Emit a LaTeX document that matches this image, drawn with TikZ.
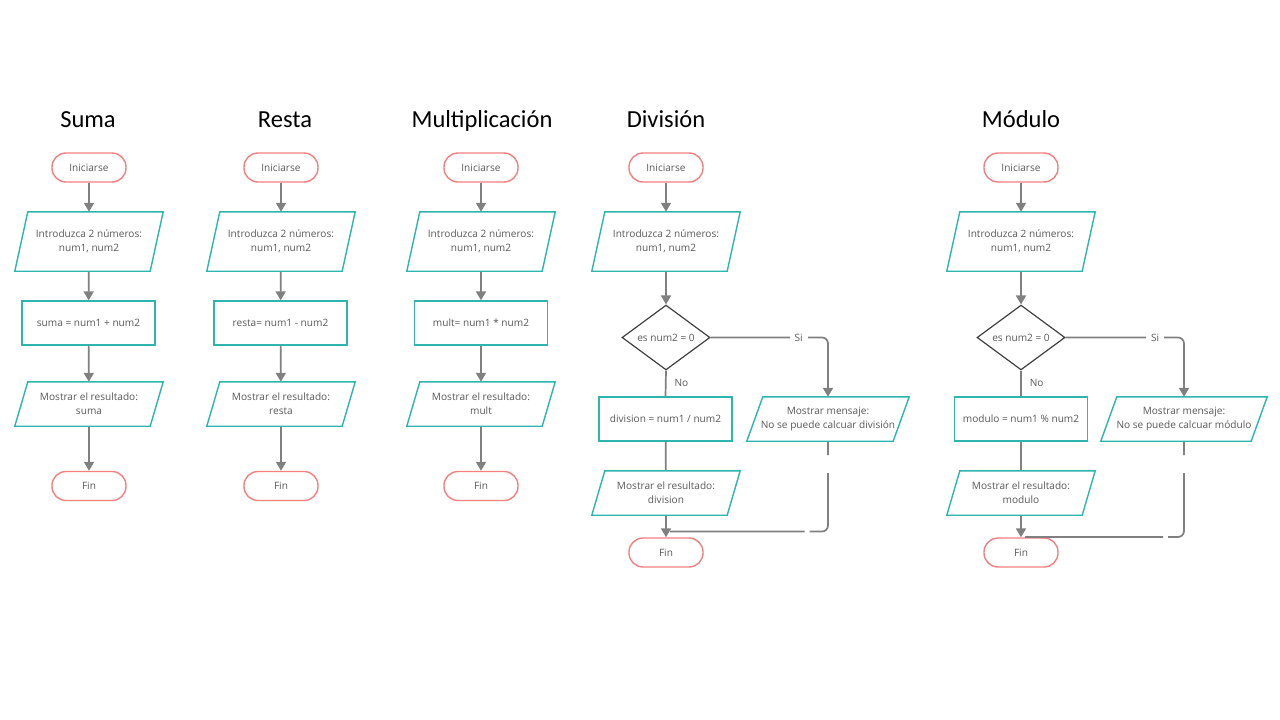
\documentclass[tikz,border=0pt]{standalone}
\usepackage{fontspec}
\setmainfont{Open Sans}
\newfontfamily\titlefont{Carlito}
\usetikzlibrary{shapes.geometric,arrows.meta,calc}
\definecolor{termc}{HTML}{F47F7F}
\definecolor{procc}{HTML}{2DB5AF}
\definecolor{linec}{HTML}{808080}
\definecolor{txtc}{HTML}{595959}
\definecolor{decc}{HTML}{404040}

\begin{document}
\begin{tikzpicture}[x=1pt,y=-1pt,
  every node/.style={font=\fontsize{10.1}{13.8}\selectfont, text=txtc, align=center, inner sep=0pt},
  term/.style={draw=termc, line width=1.4pt, rounded corners=14pt, minimum width=74pt, minimum height=29pt},
  proc/.style={draw=procc, line width=1.4pt, minimum width=133pt, minimum height=44pt},
  io/.style={minimum width=#1, minimum height=44pt},
  io/.default=135pt,
  tall/.style={minimum height=59pt},
  dec/.style={draw=decc, diamond, line width=1.2pt, minimum width=88pt, minimum height=59pt},
  ttl/.style={font=\titlefont\fontsize{24.5}{28}\selectfont, text=black, anchor=base},
  flow/.style={draw=linec, line width=1.7pt, -{Triangle[length=9pt,width=10pt]}},
  link/.style={draw=linec, line width=1.7pt},
  iob/.style={draw=procc, line width=1.4pt, line join=miter},
  lbl/.style={fill=white, inner xsep=5pt, inner ysep=2pt}
]
\fill[white] (0,0) rectangle (1280,720);
\useasboundingbox (0,0) rectangle (1280,720);

% ---------- Suma ----------
\node[ttl] (tS) at (88,127) {Suma};
\node[term] (s1) at (89,167.5) {Iniciarse};
\node[io,tall] (s2) at (89,241.5) {Introduzca 2 números:\\num1, num2};
\node[proc] (s3) at (88.5,323) {suma = num1 + num2};
\node[io] (s4) at (89,404) {Mostrar el resultado:\\suma};
\node[term] (s5) at (89,486) {Fin};
\draw[flow] (s1) -- (s2);
\draw[flow] (s2) -- (s3);
\draw[flow] (s3) -- (s4);
\draw[flow] (s4) -- (s5);

% ---------- Resta ----------
\node[ttl] (tR) at (285,127) {Resta};
\node[term] (r1) at (281,167.5) {Iniciarse};
\node[io,tall] (r2) at (281,241.5) {Introduzca 2 números:\\num1, num2};
\node[proc] (r3) at (280.5,323) {resta= num1 - num2};
\node[io] (r4) at (281,404) {Mostrar el resultado:\\resta};
\node[term] (r5) at (281,486) {Fin};
\draw[flow] (r1) -- (r2);
\draw[flow] (r2) -- (r3);
\draw[flow] (r3) -- (r4);
\draw[flow] (r4) -- (r5);

% ---------- Multiplicación ----------
\node[ttl] (tX) at (482,127) {Multiplicación};
\node[term] (x1) at (481,167.5) {Iniciarse};
\node[io,tall] (x2) at (481,241.5) {Introduzca 2 números:\\num1, num2};
\node[proc] (x3) at (481,323) {mult= num1 * num2};
\node[io] (x4) at (481,404) {Mostrar el resultado:\\mult};
\node[term] (x5) at (481,486) {Fin};
\draw[flow] (x1) -- (x2);
\draw[flow] (x2) -- (x3);
\draw[flow] (x3) -- (x4);
\draw[flow] (x4) -- (x5);

% ---------- División ----------
\node[ttl] (tD) at (666,127) {División};
\node[term] (d1) at (666,167.5) {Iniciarse};
\node[io,tall] (d2) at (666,241.5) {Introduzca 2 números:\\num1, num2};
\node[dec] (d3) at (666,337.5) {es num2 = 0};
\node[proc] (d4) at (665.5,419) {division = num1 / num2};
\node[io] (d5) at (666,493) {Mostrar el resultado:\\division};
\node[term] (d6) at (666,552.5) {Fin};
\node[io=146pt] (d7) at (828,419) {Mostrar mensaje:\\No se puede calcuar división};
\coordinate (dj) at (670,531.5);
\draw[flow] (d1) -- (d2);
\draw[flow] (d2) -- (d3);
\draw[link] (d3.south) -- (d4.north) node[pos=0.5, anchor=west, xshift=8pt] {No};
\draw[link] (d4) -- (d5);
\draw[flow] (d5) -- (d6);
\draw[flow, rounded corners=6pt] (d3.east) -- (d3.east -| d7.north) -- (d7.north);
\node[lbl] (dsi) at ($(d3.east)!0.75!(d3.east -| d7.north)$) {Si};
\draw[link, rounded corners=6pt, dash pattern=on 14pt off 18pt on 74pt off 5pt on 300pt]
  (d7.south) -- (d7.south |- dj) -- (dj);

% ---------- Módulo ----------
\node[ttl] (tM) at (1021,127) {Módulo};
\node[term] (m1) at (1021,167.5) {Iniciarse};
\node[io,tall] (m2) at (1021,241.5) {Introduzca 2 números:\\num1, num2};
\node[dec] (m3) at (1021,337.5) {es num2 = 0};
\node[proc] (m4) at (1021,419) {modulo = num1 \% num2};
\node[io] (m5) at (1021,493) {Mostrar el resultado:\\modulo};
\node[term] (m6) at (1021,552.5) {Fin};
\node[io=150pt] (m7) at (1184,419) {Mostrar mensaje:\\No se puede calcuar módulo};
\coordinate (mj) at (1025,537);
\draw[flow] (m1) -- (m2);
\draw[flow] (m2) -- (m3);
\draw[link] (m3.south) -- (m4.north) node[pos=0.5, anchor=west, xshift=8pt] {No};
\draw[link] (m4) -- (m5);
\draw[flow] (m5) -- (m6);
\draw[flow, rounded corners=6pt] (m3.east) -- (m3.east -| m7.north) -- (m7.north);
\node[lbl] (msi) at ($(m3.east)!0.756!(m3.east -| m7.north)$) {Si};
\draw[link, rounded corners=6pt, dash pattern=on 14pt off 18pt on 77pt off 5pt on 300pt]
  (m7.south) -- (m7.south |- mj) -- (mj);

% ---------- input/output parallelograms ----------
\foreach \n/\s in {s2/6.5,s4/6.5,r2/6.5,r4/6.5,x2/6.5,x4/6.5,d2/6.5,d5/6.5,d7/8,m2/6.5,m5/6.5,m7/8}
  \draw[iob] ($(\n.north west)+(\s,0)$) -- ($(\n.north east)+(\s,0)$)
    -- ($(\n.south east)-(\s,0)$) -- ($(\n.south west)-(\s,0)$) -- cycle;
\end{tikzpicture}
\end{document}
